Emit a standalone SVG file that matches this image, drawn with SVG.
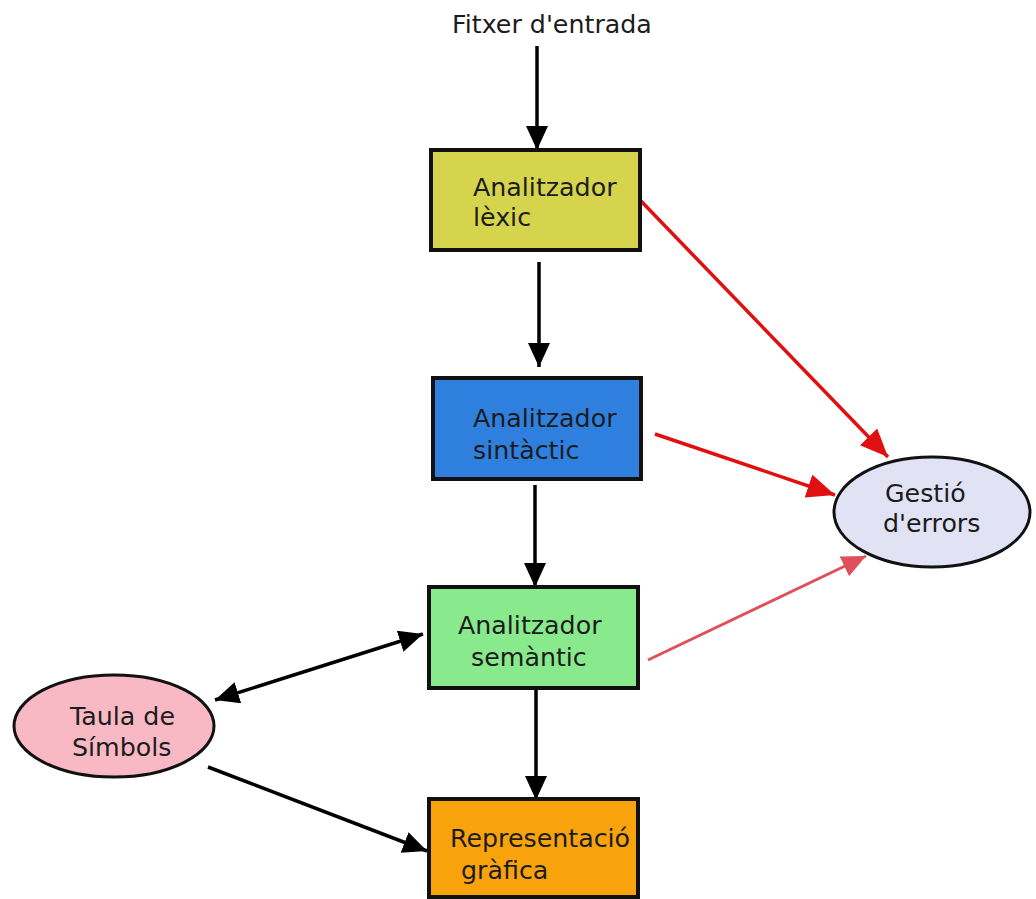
<svg xmlns="http://www.w3.org/2000/svg" width="1036" height="899" viewBox="0 0 1036 899">
<style>
text{font-family:"DejaVu Sans","Liberation Sans",sans-serif;font-size:25.3px;fill:#1c1c1c}
.box{stroke:#111;stroke-width:4}
.ell{stroke:#111;stroke-width:3}
.blk{stroke:#000;stroke-width:3.5;fill:none}
.red{stroke:#e01010;stroke-width:3.5;fill:none}
.red2{stroke:#e0505a;stroke-width:2.8;fill:none}
</style>
<defs>
<marker id="ab" markerUnits="userSpaceOnUse" markerWidth="26" markerHeight="24" refX="24" refY="11" orient="auto-start-reverse"><path d="M0,0 L24,11 L0,22 z" fill="#000"/></marker>
<marker id="ar" markerUnits="userSpaceOnUse" markerWidth="30" markerHeight="26" refX="28" refY="12" orient="auto"><path d="M0,0 L28,12 L0,24 z" fill="#e01010"/></marker>
<marker id="ar2" markerUnits="userSpaceOnUse" markerWidth="26" markerHeight="24" refX="24" refY="11" orient="auto"><path d="M0,0 L24,11 L0,22 z" fill="#e0505a"/></marker>
</defs>
<rect width="1036" height="899" fill="#fff"/>
<text x="452" y="33">Fitxer d'entrada</text>
<g id="connectors">
<line class="blk" x1="537" y1="46" x2="537" y2="150" marker-end="url(#ab)"/>
<line class="blk" x1="539" y1="262" x2="539" y2="367" marker-end="url(#ab)"/>
<line class="blk" x1="535" y1="485" x2="535" y2="587" marker-end="url(#ab)"/>
<line class="blk" x1="536" y1="690" x2="536" y2="800" marker-end="url(#ab)"/>
<line class="red" x1="640" y1="200" x2="888" y2="457" marker-end="url(#ar)"/>
<line class="red" x1="655" y1="434" x2="835" y2="495" marker-end="url(#ar)"/>
<line class="red2" x1="648" y1="660" x2="866" y2="556" marker-end="url(#ar2)"/>
<line class="blk" x1="215" y1="700" x2="423" y2="634" marker-start="url(#ab)" marker-end="url(#ab)"/>
<line class="blk" x1="208" y1="767" x2="427" y2="851" marker-end="url(#ab)"/>
</g>
<g id="lexic">
<rect class="box" x="431" y="150" width="209" height="100" fill="#d6d44c"/>
<text x="473" y="196">Analitzador</text>
<text x="473" y="226">lèxic</text>
</g>
<g id="sintactic">
<rect class="box" x="433" y="378" width="208" height="101" fill="#2f80de"/>
<text x="473" y="427">Analitzador</text>
<text x="473" y="459">sintàctic</text>
</g>
<g id="semantic">
<rect class="box" x="429" y="587" width="209" height="101" fill="#88ea8c"/>
<text x="458" y="634">Analitzador</text>
<text x="471" y="666">semàntic</text>
</g>
<g id="representacio">
<rect class="box" x="429" y="799" width="209" height="98" fill="#f9a30c"/>
<text x="450" y="847">Representació</text>
<text x="461" y="879">gràfica</text>
</g>
<g id="taula">
<ellipse class="ell" cx="114" cy="726" rx="100" ry="51" fill="#f8b9c5"/>
<text x="70" y="725">Taula de</text>
<text x="72" y="756">Símbols</text>
</g>
<g id="gestio">
<ellipse class="ell" cx="932" cy="512" rx="98" ry="55" fill="#e2e2f5"/>
<text x="885" y="502">Gestió</text>
<text x="883" y="532">d'errors</text>
</g>
</svg>
